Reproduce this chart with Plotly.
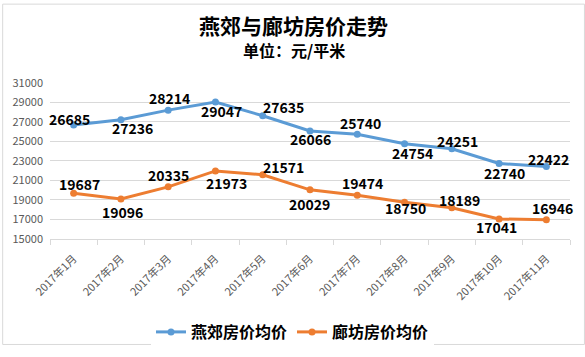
import plotly.graph_objects as go

categories = ["2017年1月", "2017年2月", "2017年3月", "2017年4月", "2017年5月", "2017年6月",
              "2017年7月", "2017年8月", "2017年9月", "2017年10月", "2017年11月"]
yanjiao = [26685, 27236, 28214, 29047, 27635, 26066, 25740, 24754, 24251, 22740, 22422]
langfang = [19687, 19096, 20335, 21973, 21571, 20029, 19474, 18750, 18189, 17041, 16946]
series_names = ["燕郊房价均价", "廊坊房价均价"]
title_text = "燕郊与廊坊房价走势"
subtitle_text = "单位：元/平米"

# label offsets (pixels) relative to each point
yj_dx = [-4, 12, 1, 6, 21, 0, 3, 8, 6, 5, 2]
yj_dy = [-6, 8, -12, 9, -9, 8, -11, 9, -8, 10, -8]
lf_dx = [6, 2, 0, 11, 21, -1, 5, 1, 8, -3, 6]
lf_dy = [-9, 13, -12, 12, -8, 14, -12, 6, -8, 8, -12]

BLUE = "#5B9BD5"
ORANGE = "#ED7D31"
FONT = "Noto Sans CJK SC"

W, H = 585, 357
L, R, T, B = 48, 15, 83, 111
pw, ph = W - L - R, H - T - B

fig = go.Figure()
for name, vals, col in [(series_names[0], yanjiao, BLUE), (series_names[1], langfang, ORANGE)]:
    fig.add_trace(go.Scatter(
        x=categories, y=vals, name=f"<b>{name}</b>", mode="lines+markers",
        line=dict(color=col, width=3),
        marker=dict(color=col, size=7, symbol="circle"),
        hoverinfo="x+y",
    ))

ann = []
for vals, dxs, dys in [(yanjiao, yj_dx, yj_dy), (langfang, lf_dx, lf_dy)]:
    for c, v, dx, dy in zip(categories, vals, dxs, dys):
        ann.append(dict(x=c, y=v, text=f"<b>{v}</b>", showarrow=False,
                        xanchor="center", yanchor="middle",
                        xshift=dx, yshift=-dy,
                        font=dict(family=FONT, size=14, color="#000000")))

cx = (W / 2 - L) / pw
ann.append(dict(xref="paper", yref="paper", x=cx, y=(ph + T - 22) / ph,
                xanchor="center", yanchor="middle",
                text=f"<b>{title_text}</b>", showarrow=False,
                font=dict(family=FONT, size=21, color="#000000")))
ann.append(dict(xref="paper", yref="paper", x=cx, y=(ph + T - 49) / ph,
                xanchor="center", yanchor="middle",
                text=f"<b>{subtitle_text}</b>", showarrow=False,
                font=dict(family=FONT, size=16, color="#000000")))

fig.update_layout(
    width=W, height=H,
    margin=dict(l=L, r=R, t=T, b=B),
    paper_bgcolor="white", plot_bgcolor="white",
    font=dict(family=FONT, color="#595959"),
    showlegend=True,
    legend=dict(orientation="h", xref="container", yref="container",
                x=0.5, xanchor="center", y=1 - 332 / H, yanchor="middle",
                font=dict(family=FONT, size=16, color="#000000"),
                itemwidth=30),
    annotations=ann,
    shapes=[dict(type="rect", xref="paper", yref="paper",
                 x0=(0.5 - L) / pw, x1=(W - 0.5 - L) / pw,
                 y0=(ph - (H - 0.5 - T)) / ph, y1=(ph + T - 0.5) / ph,
                 line=dict(color="#D9D9D9", width=1))],
    xaxis=dict(type="category", showgrid=False, showline=True, linecolor="#D9D9D9",
               ticks="outside", tickson="boundaries", ticklen=5, tickcolor="#D9D9D9",
               tickangle=-45, tickfont=dict(family=FONT, size=11, color="#595959"),
               ticklabelstandoff=8,
               range=[-0.5, len(categories) - 0.5]),
    yaxis=dict(range=[15000, 31000], dtick=2000, tick0=15000, showgrid=True,
               tickformat="d",
               gridcolor="#D9D9D9", zeroline=False, showline=False,
               tickfont=dict(family=FONT, size=11, color="#595959"),
               ticklabelstandoff=6),
)

fig.write_html("out.html", config={"displayModeBar": False},
               post_script="document.body.style.margin='0';")
